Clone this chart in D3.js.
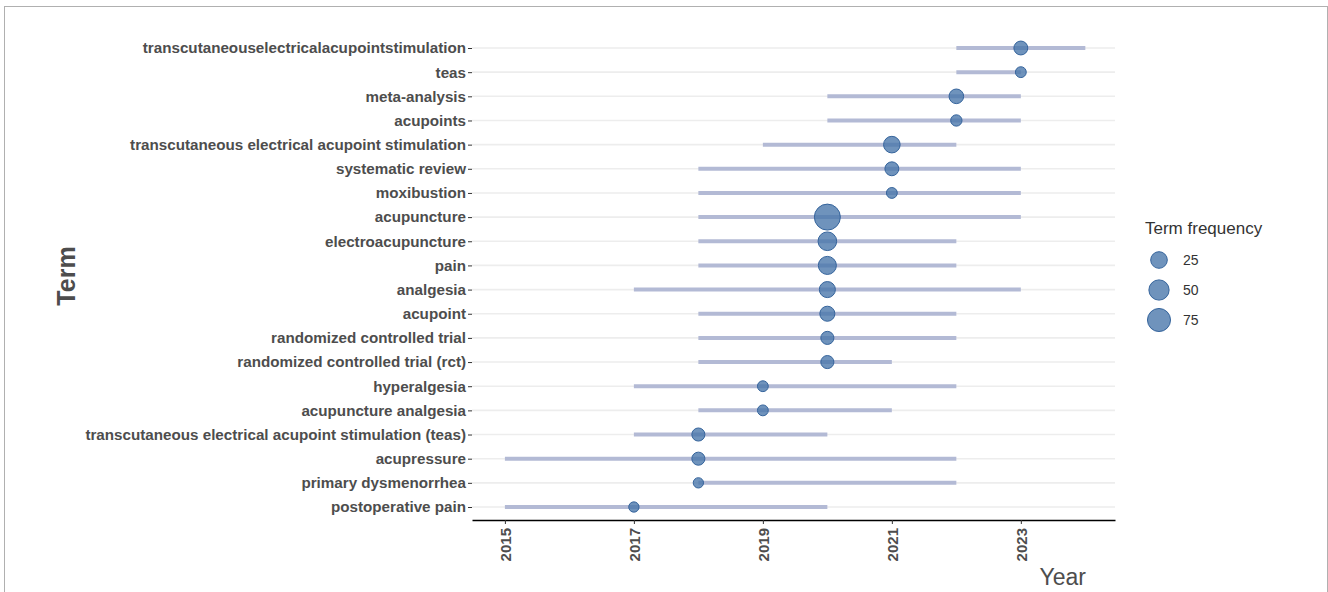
<!DOCTYPE html>
<html>
    <head>
        <meta charset="UTF-8" />
        <title>Trend topics</title>
        <script src="https://cdn.jsdelivr.net/npm/d3@7"></script>
        <style>
            body { margin: 0; background: #fff; }
            text { font-family: "Liberation Sans", Arial, sans-serif; }
        </style>
    </head>
    <body>
        <svg id="chart"></svg>
        <script>
            // terms from bottom to top
            const terms = ["postoperative pain", "primary dysmenorrhea", "acupressure",
                "transcutaneous electrical acupoint stimulation (teas)", "acupuncture analgesia",
                "hyperalgesia", "randomized controlled trial (rct)", "randomized controlled trial",
                "acupoint", "analgesia", "pain", "electroacupuncture", "acupuncture", "moxibustion",
                "systematic review", "transcutaneous electrical acupoint stimulation", "acupoints",
                "meta-analysis", "teas", "transcutaneouselectricalacupointstimulation"];
            const yearStart = [2015, 2018, 2015, 2017, 2018, 2017, 2018, 2018, 2018, 2017,
                2018, 2018, 2018, 2018, 2018, 2019, 2020, 2020, 2022, 2022];
            const yearEnd = [2020, 2022, 2022, 2020, 2021, 2022, 2021, 2022, 2022, 2023,
                2022, 2022, 2023, 2023, 2023, 2022, 2023, 2023, 2023, 2024];
            const yearPeak = [2017, 2018, 2018, 2018, 2019, 2019, 2020, 2020, 2020, 2020,
                2020, 2020, 2020, 2021, 2021, 2021, 2022, 2022, 2023, 2023];
            const freq = [2, 2, 9, 9, 3, 3, 9, 9, 17, 22, 34, 38, 107, 3, 12, 25, 4, 15, 3, 12];
            const yearTicks = [2015, 2017, 2019, 2021, 2023];
            const legendValues = [25, 50, 75];

            const width = 1328, height = 592;
            const svg = d3.select("#chart").attr("width", width).attr("height", height);

            // outer frame
            svg.append("rect")
                .attr("x", 4.5).attr("y", 6.5)
                .attr("width", 1323).attr("height", 600)
                .attr("fill", "none").attr("stroke", "#b0b0b0").attr("stroke-width", 1);

            const x = d3.scaleLinear().domain([2014.49, 2024.46]).range([472, 1115]);
            const y = d3.scalePoint().domain(terms).range([507, 48]);
            const r = d3.scaleSqrt().domain([2, 107]).range([5.15, 13]);

            const rows = terms.map((t, i) => ({
                term: t, start: yearStart[i], end: yearEnd[i], peak: yearPeak[i], n: freq[i]
            }));

            // horizontal grid lines
            svg.append("g").selectAll("line")
                .data(terms).enter().append("line")
                .attr("x1", x.range()[0]).attr("x2", x.range()[1])
                .attr("y1", d => y(d)).attr("y2", d => y(d))
                .attr("stroke", "#ededed").attr("stroke-width", 1.6);

            // year span segments
            svg.append("g").selectAll("line")
                .data(rows).enter().append("line")
                .attr("x1", d => x(d.start)).attr("x2", d => x(d.end))
                .attr("y1", d => y(d.term)).attr("y2", d => y(d.term))
                .attr("stroke", "#b3bad5").attr("stroke-width", 4);

            // peak circles
            svg.append("g").selectAll("circle")
                .data(rows).enter().append("circle")
                .attr("cx", d => x(d.peak)).attr("cy", d => y(d.term))
                .attr("r", d => r(d.n))
                .attr("fill", "#4674a9").attr("fill-opacity", 0.78)
                .attr("stroke", "#35649c").attr("stroke-width", 1);

            // y axis (ticks + labels, no line)
            const yAxis = svg.append("g")
                .attr("transform", "translate(" + x.range()[0] + ",0)")
                .call(d3.axisLeft(y).tickSize(4).tickPadding(2));
            yAxis.select(".domain").remove();
            yAxis.selectAll(".tick line").attr("stroke", "#333");
            yAxis.selectAll("text")
                .attr("fill", "#4d4d4d")
                .style("font-size", "15.2px").style("font-weight", "bold");

            // x axis
            const xAxis = svg.append("g")
                .attr("transform", "translate(0,520)")
                .call(d3.axisBottom(x).tickValues(yearTicks).tickFormat(d3.format("d")).tickSize(4).tickSizeOuter(0));
            xAxis.select(".domain").attr("stroke", "#000").attr("stroke-width", 1.6);
            xAxis.selectAll(".tick line").attr("stroke", "#333");
            xAxis.selectAll("text")
                .attr("transform", "rotate(-90)")
                .attr("x", -8).attr("y", 0).attr("dy", "0.35em")
                .attr("text-anchor", "end")
                .attr("fill", "#4d4d4d")
                .style("font-size", "15px").style("font-weight", "bold");

            // axis titles
            svg.append("text")
                .attr("transform", "translate(75,276) rotate(-90)")
                .attr("text-anchor", "middle")
                .attr("fill", "#4d4d4d")
                .style("font-size", "25px").style("font-weight", "bold")
                .text("Term");
            svg.append("text")
                .attr("x", 1086).attr("y", 585)
                .attr("text-anchor", "end")
                .attr("fill", "#4d4d4d")
                .style("font-size", "23px")
                .text("Year");

            // legend
            const legend = svg.append("g").attr("transform", "translate(1145,0)");
            legend.append("text")
                .attr("x", 0).attr("y", 234)
                .attr("fill", "#333")
                .style("font-size", "17px")
                .text("Term frequency");
            const items = legend.selectAll(".item")
                .data(legendValues).enter().append("g")
                .attr("transform", (d, i) => "translate(14," + (260 + i * 30) + ")");
            items.append("circle")
                .attr("r", d => r(d))
                .attr("fill", "#4674a9").attr("fill-opacity", 0.78)
                .attr("stroke", "#35649c").attr("stroke-width", 1);
            items.append("text")
                .attr("x", 24).attr("dy", "0.35em")
                .attr("fill", "#333")
                .style("font-size", "14px")
                .text(d => d);
        </script>
    </body>
</html>
